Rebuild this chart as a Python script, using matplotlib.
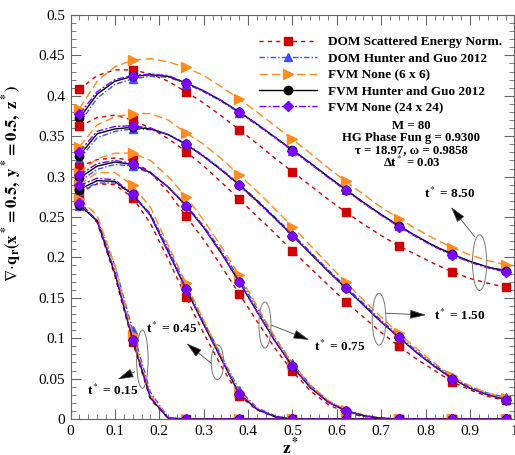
import numpy as np
import matplotlib
matplotlib.use("Agg")
import matplotlib.pyplot as plt
from matplotlib.patches import Ellipse
from matplotlib.ticker import MultipleLocator, FormatStrFormatter

plt.rcParams['font.family'] = ['Liberation Serif', 'DejaVu Serif']
plt.rcParams['mathtext.fontset'] = 'stix'

# z* positions of the plotted points (markers on every third one)
z = [0.02, 0.06, 0.10, 0.14, 0.18, 0.22, 0.26, 0.30, 0.34, 0.38, 0.42, 0.46, 0.50,
     0.54, 0.58, 0.62, 0.66, 0.70, 0.74, 0.78, 0.82, 0.86, 0.90, 0.94, 0.98]

# t* = 8.50
red_850 = [0.408, 0.425, 0.432, 0.432, 0.427, 0.418, 0.405, 0.391, 0.375, 0.358, 0.341, 0.323, 0.306,
           0.289, 0.272, 0.256, 0.241, 0.227, 0.214, 0.203, 0.192, 0.182, 0.174, 0.168, 0.163]
blue_850 = [0.366, 0.397, 0.414, 0.421, 0.424, 0.423, 0.415, 0.405, 0.393, 0.379, 0.364, 0.348, 0.332,
            0.316, 0.300, 0.284, 0.268, 0.253, 0.239, 0.226, 0.214, 0.204, 0.195, 0.188, 0.184]
orange_850 = [0.384, 0.418, 0.436, 0.444, 0.446, 0.442, 0.435, 0.425, 0.411, 0.396, 0.380, 0.363, 0.346,
              0.329, 0.311, 0.294, 0.278, 0.262, 0.248, 0.235, 0.223, 0.212, 0.203, 0.196, 0.191]
black_850 = [0.372, 0.402, 0.418, 0.424, 0.426, 0.424, 0.416, 0.406, 0.394, 0.380, 0.365, 0.349, 0.333,
             0.317, 0.300, 0.284, 0.268, 0.253, 0.239, 0.226, 0.214, 0.204, 0.195, 0.188, 0.183]
purple_850 = [0.377, 0.405, 0.420, 0.425, 0.427, 0.425, 0.416, 0.406, 0.394, 0.380, 0.365, 0.349, 0.332,
              0.316, 0.299, 0.283, 0.267, 0.252, 0.238, 0.225, 0.213, 0.203, 0.194, 0.187, 0.182]

# t* = 1.50
red_150 = [0.362, 0.373, 0.376, 0.370, 0.360, 0.347, 0.331, 0.313, 0.293, 0.272, 0.251, 0.230, 0.208,
           0.187, 0.166, 0.145, 0.126, 0.107, 0.090, 0.074, 0.060, 0.046, 0.036, 0.028, 0.023]
blue_150 = [0.322, 0.348, 0.356, 0.359, 0.358, 0.352, 0.341, 0.326, 0.309, 0.291, 0.271, 0.250, 0.229,
            0.207, 0.185, 0.164, 0.143, 0.122, 0.103, 0.084, 0.067, 0.052, 0.040, 0.032, 0.027]
orange_150 = [0.337, 0.364, 0.374, 0.378, 0.378, 0.370, 0.354, 0.340, 0.322, 0.302, 0.282, 0.260, 0.238,
              0.215, 0.192, 0.169, 0.147, 0.126, 0.106, 0.087, 0.069, 0.053, 0.041, 0.032, 0.026]
black_150 = [0.326, 0.353, 0.359, 0.361, 0.359, 0.352, 0.340, 0.325, 0.308, 0.290, 0.270, 0.249, 0.227,
             0.205, 0.183, 0.162, 0.141, 0.120, 0.101, 0.082, 0.065, 0.050, 0.038, 0.030, 0.024]
purple_150 = [0.331, 0.356, 0.362, 0.363, 0.360, 0.352, 0.340, 0.325, 0.308, 0.289, 0.269, 0.248, 0.227,
              0.205, 0.183, 0.162, 0.141, 0.120, 0.101, 0.082, 0.065, 0.050, 0.038, 0.030, 0.024]

# t* = 0.75
red_075 = [0.312, 0.321, 0.323, 0.320, 0.305, 0.281, 0.251, 0.222, 0.189, 0.155, 0.121, 0.088, 0.059,
           0.035, 0.018, 0.008, 0.003, 0.001, 0.0, 0.0, 0.0, 0.0, 0.0, 0.0, 0.0]
blue_075 = [0.294, 0.309, 0.315, 0.313, 0.304, 0.287, 0.265, 0.239, 0.208, 0.174, 0.137, 0.101, 0.069,
            0.042, 0.023, 0.011, 0.005, 0.001, 0.0, 0.0, 0.0, 0.0, 0.0, 0.0, 0.0]
orange_075 = [0.305, 0.322, 0.329, 0.329, 0.320, 0.300, 0.275, 0.246, 0.213, 0.178, 0.140, 0.102, 0.068,
              0.042, 0.023, 0.011, 0.004, 0.001, 0.0, 0.0, 0.0, 0.0, 0.0, 0.0, 0.0]
black_075 = [0.298, 0.313, 0.318, 0.315, 0.305, 0.287, 0.264, 0.237, 0.205, 0.170, 0.133, 0.097, 0.065,
             0.039, 0.021, 0.010, 0.004, 0.001, 0.0, 0.0, 0.0, 0.0, 0.0, 0.0, 0.0]
purple_075 = [0.302, 0.316, 0.320, 0.316, 0.305, 0.287, 0.264, 0.237, 0.205, 0.170, 0.133, 0.097, 0.065,
              0.039, 0.021, 0.010, 0.004, 0.001, 0.0, 0.0, 0.0, 0.0, 0.0, 0.0, 0.0]

# t* = 0.45
red_045 = [0.280, 0.291, 0.290, 0.274, 0.242, 0.198, 0.151, 0.106, 0.065, 0.029, 0.011, 0.003, 0.0,
           0.0, 0.0, 0.0, 0.0, 0.0, 0.0, 0.0, 0.0, 0.0, 0.0, 0.0, 0.0]
blue_045 = [0.282, 0.292, 0.292, 0.278, 0.254, 0.211, 0.165, 0.121, 0.078, 0.036, 0.014, 0.004, 0.0,
            0.0, 0.0, 0.0, 0.0, 0.0, 0.0, 0.0, 0.0, 0.0, 0.0, 0.0, 0.0]
orange_045 = [0.290, 0.305, 0.305, 0.289, 0.262, 0.215, 0.168, 0.122, 0.077, 0.033, 0.013, 0.003, 0.0,
              0.0, 0.0, 0.0, 0.0, 0.0, 0.0, 0.0, 0.0, 0.0, 0.0, 0.0, 0.0]
black_045 = [0.284, 0.295, 0.294, 0.278, 0.252, 0.207, 0.161, 0.117, 0.074, 0.031, 0.012, 0.003, 0.0,
             0.0, 0.0, 0.0, 0.0, 0.0, 0.0, 0.0, 0.0, 0.0, 0.0, 0.0, 0.0]
purple_045 = [0.289, 0.298, 0.296, 0.278, 0.252, 0.207, 0.161, 0.117, 0.074, 0.031, 0.012, 0.003, 0.0,
              0.0, 0.0, 0.0, 0.0, 0.0, 0.0, 0.0, 0.0, 0.0, 0.0, 0.0, 0.0]

# t* = 0.15
red_015 = [0.270, 0.243, 0.177, 0.095, 0.024, 0.001, 0.0, 0.0, 0.0, 0.0, 0.0, 0.0, 0.0,
           0.0, 0.0, 0.0, 0.0, 0.0, 0.0, 0.0, 0.0, 0.0, 0.0, 0.0, 0.0]
blue_015 = [0.264, 0.246, 0.190, 0.110, 0.033, 0.002, 0.0, 0.0, 0.0, 0.0, 0.0, 0.0, 0.0,
            0.0, 0.0, 0.0, 0.0, 0.0, 0.0, 0.0, 0.0, 0.0, 0.0, 0.0, 0.0]
orange_015 = [0.272, 0.252, 0.190, 0.104, 0.030, 0.002, 0.0, 0.0, 0.0, 0.0, 0.0, 0.0, 0.0,
              0.0, 0.0, 0.0, 0.0, 0.0, 0.0, 0.0, 0.0, 0.0, 0.0, 0.0, 0.0]
black_015 = [0.265, 0.245, 0.180, 0.098, 0.026, 0.001, 0.0, 0.0, 0.0, 0.0, 0.0, 0.0, 0.0,
             0.0, 0.0, 0.0, 0.0, 0.0, 0.0, 0.0, 0.0, 0.0, 0.0, 0.0, 0.0]
purple_015 = [0.267, 0.246, 0.182, 0.098, 0.027, 0.001, 0.0, 0.0, 0.0, 0.0, 0.0, 0.0, 0.0,
              0.0, 0.0, 0.0, 0.0, 0.0, 0.0, 0.0, 0.0, 0.0, 0.0, 0.0, 0.0]

labels = ["DOM Scattered Energy Norm.", "DOM Hunter and Guo 2012", "FVM None (6 x 6)",
          "FVM Hunter and Guo 2012", "FVM None (24 x 24)"]
time_labels = ["8.50", "1.50", "0.75", "0.45", "0.15"]

# line styles per method
styles = [
    dict(color='#d10000', marker='s', ms=5.5, dashes=(3, 3), lw=1.0),
    dict(color='#3d4dff', marker='^', ms=6, dashes=(4, 1.5, 1, 1.5), lw=1.0),
    dict(color='#ff8c1c', marker='>', ms=6.5, dashes=(6, 3), lw=1.0),
    dict(color='black', marker='o', ms=6, ls='-', lw=1.0),
    dict(color='#7b00ff', marker='D', ms=5.5, dashes=(5, 1.5, 1.5, 1.5), lw=1.0),
]

curves = [
    [red_850, blue_850, orange_850, black_850, purple_850],
    [red_150, blue_150, orange_150, black_150, purple_150],
    [red_075, blue_075, orange_075, black_075, purple_075],
    [red_045, blue_045, orange_045, black_045, purple_045],
    [red_015, blue_015, orange_015, black_015, purple_015],
]

fig = plt.figure(figsize=(5.15, 4.55), dpi=100)
ax = fig.add_axes([0.1369, 0.0791, 0.862, 0.888])

for ti, series in enumerate(curves):
    for si, vals in enumerate(series):
        st = styles[si]
        ax.plot(z, vals, markevery=3, mec=st['color'], label=labels[si] if ti == 0 else None,
                **st)

ax.set_xlim(0, 1)
ax.set_ylim(0, 0.5)
ax.xaxis.set_major_locator(MultipleLocator(0.1))
ax.xaxis.set_minor_locator(MultipleLocator(0.02))
ax.yaxis.set_major_locator(MultipleLocator(0.05))
ax.yaxis.set_minor_locator(MultipleLocator(0.01))
ax.xaxis.set_major_formatter(FormatStrFormatter('%g'))
ax.yaxis.set_major_formatter(FormatStrFormatter('%g'))
ax.tick_params(which='both', direction='in', top=True, right=True, color='#666666',
               labelsize=11, pad=4)
ax.tick_params(which='major', length=7, width=0.8)
ax.tick_params(which='minor', length=3.5, width=0.6)
for sp in ax.spines.values():
    sp.set_color('#666666')
    sp.set_linewidth(0.8)

ax.set_ylabel(r'$\nabla\!\cdot\!\mathbf{q_r(x^* = 0.5,\ y^* = 0.5,\ z^*)}$', fontsize=12)
ax.yaxis.set_label_coords(-0.104, 0.584)
ax.set_xlabel(r'$\mathbf{z^*}$', fontsize=12.5)
ax.xaxis.set_label_coords(0.496, -0.045)

leg = ax.legend(loc='upper left', bbox_to_anchor=(0.425, 0.948), frameon=False,
                prop=dict(weight='bold', size=9.5), handlelength=4.4, handletextpad=0.8,
                labelspacing=0.32, borderpad=0, borderaxespad=0)

info = ["M = 80", "HG Phase Fun g = 0.9300", "τ = 18.97, ω = 0.9858", r"Δt$^*$ = 0.03"]
info_y = [0.725, 0.6953, 0.6656, 0.634]
for line, yy in zip(info, info_y):
    ax.text(0.768, yy, line, transform=ax.transAxes, ha='center', va='center',
            fontsize=9.2, fontweight='bold')

# ellipse centre, ellipse size, arrow start, arrow tip, label position
ell_centers = [(0.9215, 0.1935), (0.695, 0.1235), (0.438, 0.1163), (0.331, 0.0703), (0.1618, 0.074)]
ell_sizes = [(0.032, 0.069), (0.031, 0.064), (0.027, 0.057), (0.028, 0.043), (0.026, 0.072)]
arrow_from = [(0.911, 0.2252), (0.709, 0.131), (0.452, 0.1163), (0.317, 0.069), (0.145, 0.0585)]
arrow_to = [(0.857, 0.2624), (0.801, 0.1287), (0.538, 0.0978), (0.261, 0.0937), (0.106, 0.049)]
text_pos = [(0.797, 0.2797), (0.819, 0.1287), (0.549, 0.0895), (0.171, 0.1126), (0.037, 0.0359)]

for i, tl in enumerate(time_labels):
    ax.add_patch(Ellipse(ell_centers[i], ell_sizes[i][0], ell_sizes[i][1], fill=False,
                         ec='#777777', lw=0.7, zorder=5))
    ax.annotate('', xy=arrow_to[i], xytext=arrow_from[i],
                arrowprops=dict(arrowstyle='-|>,head_length=1.0,head_width=0.28',
                                color='#444444', fc='black', lw=0.6, shrinkA=0, shrinkB=0))
    ax.text(text_pos[i][0], text_pos[i][1], r't$^*$ = ' + tl, ha='left', va='center',
            fontsize=9.5, fontweight='bold')

fig.savefig('out.png', dpi=100)
